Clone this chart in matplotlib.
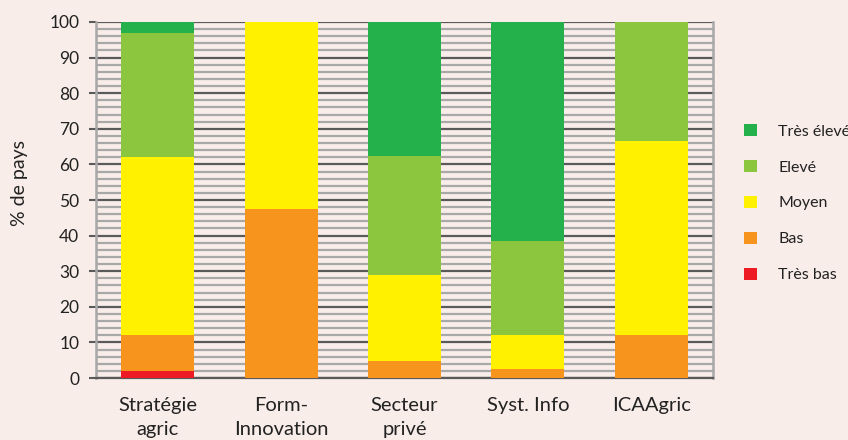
import matplotlib
matplotlib.use("Agg")
import matplotlib.pyplot as plt
from matplotlib.ticker import MultipleLocator
from matplotlib.patches import Patch
import numpy as np

plt.rcParams['font.family'] = ['Lato', 'DejaVu Sans']

categories = ["Stratégie\nagric", "Form-\nInnovation", "Secteur\nprivé", "Syst. Info", "ICAAgric"]
levels = ["Très bas", "Bas", "Moyen", "Elevé", "Très élevé"]
colors = ["#ED1C24", "#F7941D", "#FFF100", "#8CC63F", "#24B14B"]

tres_bas = [2, 0, 0, 0, 0]
bas = [10, 47.5, 4.8, 2.5, 12]
moyen = [50, 52.5, 24, 9.5, 54.5]
eleve = [35, 0, 33.5, 26.5, 33.5]
tres_eleve = [3, 0, 37.7, 61.5, 0]
series = [tres_bas, bas, moyen, eleve, tres_eleve]

bg = "#F8EDE9"
fig = plt.figure(figsize=(8.48, 4.40), dpi=100, facecolor=bg)
ax = fig.add_axes([96/848, 1-378/440, (713-96)/848, (378-22)/440], facecolor=bg)

x = np.arange(len(categories))
bottom = np.zeros(len(categories))
for vals, col, lab in zip(series, colors, levels):
    v = np.array(vals, dtype=float)
    ax.bar(x, v, bottom=bottom, width=0.59, color=col, label=lab, zorder=3, linewidth=0)
    bottom += v

ax.set_xlim(-0.5, len(categories) - 0.5)
ax.set_ylim(0, 100)
ax.yaxis.set_major_locator(MultipleLocator(10))
ax.yaxis.set_minor_locator(MultipleLocator(2))
ax.grid(which='minor', axis='y', color='#A8A8A8', linewidth=1.6, zorder=1)
ax.grid(which='major', axis='y', color='#5A5A5A', linewidth=1.6, zorder=2)
ax.tick_params(axis='y', which='major', length=5, width=1.5, color='#5A5A5A',
               labelsize=12.5, labelcolor='#222222', pad=7)
ax.tick_params(axis='y', which='minor', length=0)
ax.tick_params(axis='x', length=0, pad=14, labelsize=14.5, labelcolor='#222222')
ax.set_xticks(x)
ax.set_xticklabels(categories, linespacing=1.5)

ax.spines['top'].set_visible(False)
ax.spines['bottom'].set_color('#5A5A5A')
ax.spines['bottom'].set_linewidth(1.6)
for s in ('left', 'right'):
    ax.spines[s].set_color('#A8A8A8')
    ax.spines[s].set_linewidth(1.8)
ax.set_axisbelow(True)

fig.text(19/848, 1-182.5/440, "% de pays", rotation=90, ha='center', va='center',
         fontsize=14, color='#222222')

handles = [Patch(facecolor=c, edgecolor='none', label=l) for c, l in zip(colors, levels)][::-1]
fig.legend(handles=handles, loc='upper left', bbox_to_anchor=(744/848, 1-124/440),
           frameon=False, fontsize=11.5, handlelength=0.8, handleheight=0.8,
           handletextpad=1.35, labelspacing=1.33, borderpad=0, borderaxespad=0,
           labelcolor='#222222')

fig.savefig("out.png", dpi=100, facecolor=bg)
